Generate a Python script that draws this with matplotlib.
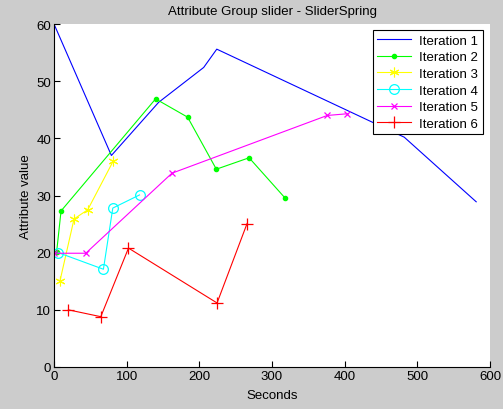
import matplotlib
matplotlib.use("Agg")
import matplotlib.pyplot as plt

plt.rcParams['font.family'] = ['Liberation Sans', 'DejaVu Sans']

# Attribute value over time for each slider iteration
it1_t = [0, 79, 144, 206, 224, 482, 581]
it1_v = [60, 37.0, 46.3, 52.4, 55.6, 40.2, 28.9]

it2_t = [3.6, 9.7, 139.8, 183.9, 223.4, 268.5, 317.7]
it2_v = [20.1, 27.3, 46.9, 43.7, 34.6, 36.6, 29.6]

it3_t = [8.3, 27.6, 46.4, 81.8]
it3_v = [15.1, 25.9, 27.5, 36.1]

it4_t = [6.0, 68.0, 80.9, 117.7]
it4_v = [20.0, 17.1, 27.8, 30.1]

it5_t = [0.5, 43.7, 162.3, 376.0, 403.7]
it5_v = [19.9, 19.9, 33.9, 44.0, 44.3]

it6_t = [19.8, 64.4, 102.5, 224.4, 265.7]
it6_v = [10.0, 8.8, 20.8, 11.2, 25.1]

labels = ['Iteration 1', 'Iteration 2', 'Iteration 3',
          'Iteration 4', 'Iteration 5', 'Iteration 6']

fs = 9.5

fig = plt.figure(figsize=(5.03, 4.10), dpi=100, facecolor='#cccccc')
ax = fig.add_axes([54/503, 42/410, 436/503, 343/410])
ax.set_facecolor('white')

lw = 0.8
ax.plot(it1_t, it1_v, color='#0000ff', lw=lw, label=labels[0])
ax.plot(it2_t, it2_v, color='#00ff00', lw=lw, marker='.', ms=6, label=labels[1])
ax.plot(it3_t, it3_v, color='#ffff00', lw=lw, marker=(6, 2, 0), ms=7,
        mew=0.8, label=labels[2])
ax.plot(it4_t, it4_v, color='#00ffff', lw=lw, marker='o', ms=7, mfc='none',
        mew=0.9, label=labels[3])
ax.plot(it5_t, it5_v, color='#ff00ff', lw=lw, marker='x', ms=4.5,
        mew=0.9, label=labels[4])
ax.plot(it6_t, it6_v, color='#ff0000', lw=lw, marker='+', ms=8.5,
        mew=0.9, label=labels[5])

ax.set_xlim(0, 600)
ax.set_ylim(0, 60)
ax.set_xticks(range(0, 601, 100))
ax.set_yticks(range(0, 61, 10))
ax.tick_params(direction='in', length=4, width=0.8, labelsize=fs,
               colors='black', pad=2)
for side in ('top', 'right'):
    ax.spines[side].set_visible(False)
for side in ('left', 'bottom'):
    ax.spines[side].set_linewidth(0.8)

ax.set_title('Attribute Group slider - SliderSpring', fontsize=fs, pad=7)
ax.set_xlabel('Seconds', fontsize=fs, labelpad=5)
ax.set_ylabel('Attribute value', fontsize=fs, labelpad=3)

leg = ax.legend(loc='upper right', bbox_to_anchor=(0.984, 0.9825),
                fontsize=fs, frameon=True, fancybox=False,
                edgecolor='black', framealpha=1, borderpad=0.35,
                labelspacing=0.33, handlelength=2.6, handletextpad=0.6,
                borderaxespad=0)
leg.get_frame().set_linewidth(0.8)

fig.savefig('out.png', dpi=100, facecolor=fig.get_facecolor())
